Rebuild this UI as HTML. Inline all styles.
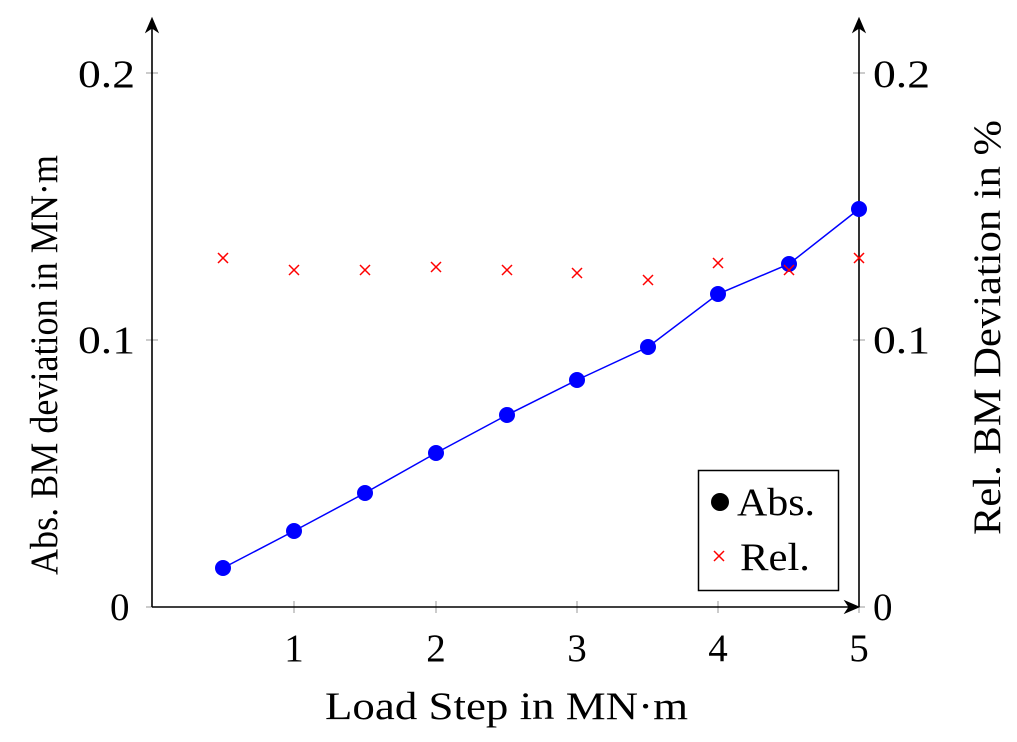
<!DOCTYPE html>
<html><head><style>body{margin:0;background:#fff}svg{display:block}text{font-family:"Liberation Serif",serif;fill:#000}</style></head>
<body>
<svg width="1017" height="742" viewBox="0 0 1017 742" xmlns="http://www.w3.org/2000/svg">
<g stroke="#999" stroke-width="1">
<line x1="146" y1="607" x2="158" y2="607"/><line x1="146" y1="340" x2="158" y2="340"/><line x1="146" y1="73" x2="158" y2="73"/>
<line x1="853" y1="607" x2="865" y2="607"/><line x1="853" y1="340" x2="865" y2="340"/><line x1="853" y1="73" x2="865" y2="73"/>
<line x1="294" y1="601" x2="294" y2="613"/><line x1="436" y1="601" x2="436" y2="613"/><line x1="577" y1="601" x2="577" y2="613"/><line x1="718" y1="601" x2="718" y2="613"/><line x1="859" y1="601" x2="859" y2="613"/>
</g>
<g stroke="#000" stroke-width="1.6" fill="none">
<line x1="152" y1="607" x2="152" y2="22"/><line x1="152" y1="607" x2="855" y2="607"/><line x1="859" y1="607" x2="859" y2="22"/>
<path d="M146,32 L152,18 L158,32 L152,28 Z" fill="#000" stroke-width="1"/>
<path d="M853,32 L859,18 L865,32 L859,28 Z" fill="#000" stroke-width="1"/>
<path d="M845,601 L859,607 L845,613 L849,607 Z" fill="#000" stroke-width="1"/>
</g>
<polyline fill="none" stroke="#00f" stroke-width="1.5" points="223,568 294,531 365,493 436,453 507,415 577,380 648,347 718,294 789,264 859,209"/>
<g fill="#00f">
<circle cx="223" cy="568" r="8"/><circle cx="294" cy="531" r="8"/><circle cx="365" cy="493" r="8"/><circle cx="436" cy="453" r="8"/><circle cx="507" cy="415" r="8"/><circle cx="577" cy="380" r="8"/><circle cx="648" cy="347" r="8"/><circle cx="718" cy="294" r="8"/><circle cx="789" cy="264" r="8"/><circle cx="859" cy="209" r="8"/>
</g>
<g stroke="#f00" stroke-width="1.5">
<path d="M218,253l10,10m0,-10l-10,10"/><path d="M289,265l10,10m0,-10l-10,10"/><path d="M360,265l10,10m0,-10l-10,10"/><path d="M431,262l10,10m0,-10l-10,10"/><path d="M502,265l10,10m0,-10l-10,10"/><path d="M572,268l10,10m0,-10l-10,10"/><path d="M643,275l10,10m0,-10l-10,10"/><path d="M713,258l10,10m0,-10l-10,10"/><path d="M784,265l10,10m0,-10l-10,10"/><path d="M854,253l10,10m0,-10l-10,10"/>
</g>
<rect x="698.5" y="470.5" width="140" height="120" fill="#fff" stroke="#000" stroke-width="1.5"/>
<circle cx="720" cy="502" r="9" fill="#000"/>
<path d="M714,551l10,10m0,-10l-10,10" stroke="#f00" stroke-width="1.5"/>
<g font-size="39">
<text x="737" y="515" textLength="78" lengthAdjust="spacingAndGlyphs">Abs.</text>
<text x="740" y="570" textLength="70" lengthAdjust="spacingAndGlyphs">Rel.</text>
<text x="110" y="620">0</text>
<text x="78" y="353" textLength="57" lengthAdjust="spacingAndGlyphs">0.1</text>
<text x="78" y="87" textLength="57" lengthAdjust="spacingAndGlyphs">0.2</text>
<text x="873" y="620">0</text>
<text x="873" y="353" textLength="57" lengthAdjust="spacingAndGlyphs">0.1</text>
<text x="873" y="87" textLength="57" lengthAdjust="spacingAndGlyphs">0.2</text>
<text x="294" y="661" text-anchor="middle">1</text><text x="436" y="661" text-anchor="middle">2</text><text x="577" y="661" text-anchor="middle">3</text><text x="718" y="661" text-anchor="middle">4</text><text x="859" y="661" text-anchor="middle">5</text>
<text x="325" y="719" textLength="363" lengthAdjust="spacingAndGlyphs">Load Step in MN·m</text>
<text transform="translate(57,575) rotate(-90)" textLength="420" lengthAdjust="spacingAndGlyphs">Abs. BM deviation in MN·m</text>
<text transform="translate(1000,535) rotate(-90)" textLength="415" lengthAdjust="spacingAndGlyphs">Rel. BM Deviation in %</text>
</g>
</svg>
</body></html>
